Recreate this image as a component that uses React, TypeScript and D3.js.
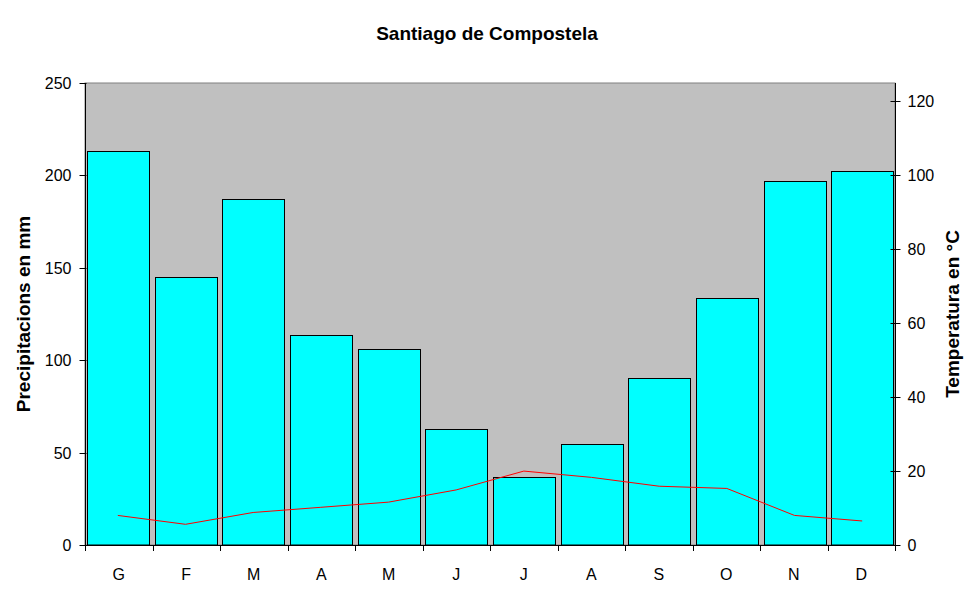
import { useEffect, useRef } from 'react';
import * as d3 from 'd3';

const months = ['G', 'F', 'M', 'A', 'M', 'J', 'J', 'A', 'S', 'O', 'N', 'D'];
const precipitation = [213, 145, 187.5, 113.5, 106, 62.8, 36.8, 54.6, 90.4, 133.6, 196.8, 202.6];
const temperature = [8.0, 5.6, 8.8, 10.2, 11.6, 14.9, 20.0, 18.3, 15.9, 15.3, 8.0, 6.5];
const precipTicks = [0, 50, 100, 150, 200, 250];
const tempTicks = [0, 20, 40, 60, 80, 100, 120];

const width = 974;
const height = 604;
const font = 'Arial, "Liberation Sans", sans-serif';

export default function App() {
  const svgRef = useRef<SVGSVGElement>(null);

  useEffect(() => {
    if (!svgRef.current) return;
    const svg = d3.select(svgRef.current);
    svg.selectAll('*').remove();

    const left = 85, right = 895, top = 83, bottom = 545;

    const x = d3.scaleBand<number>()
      .domain(d3.range(months.length))
      .range([left, right])
      .paddingInner(0.09)
      .paddingOuter(0.03);

    const yP = d3.scaleLinear().domain([0, 250]).range([bottom, top]);
    const yT = d3.scaleLinear().domain([0, 125]).range([bottom, top]);

    // plot background
    svg.append('rect')
      .attr('x', left).attr('y', top)
      .attr('width', right - left).attr('height', bottom - top)
      .attr('fill', '#c0c0c0')
      .attr('stroke', '#808080')
      .attr('stroke-width', 1);

    // bars
    svg.append('g')
      .selectAll('rect')
      .data(precipitation)
      .enter().append('rect')
      .attr('x', (d, i) => Math.round(x(i)!) + 0.5)
      .attr('y', d => Math.round(yP(d)) + 0.5)
      .attr('width', Math.round(x.bandwidth()))
      .attr('height', d => bottom - Math.round(yP(d)) - 0.5)
      .attr('fill', '#00ffff')
      .attr('stroke', '#000')
      .attr('stroke-width', 1);

    // temperature line
    const line = d3.line<number>()
      .x((d, i) => x(i)! + x.bandwidth() / 2)
      .y(d => yT(d));

    svg.append('path')
      .datum(temperature)
      .attr('d', line)
      .attr('fill', 'none')
      .attr('stroke', '#ff0000')
      .attr('stroke-width', 1);

    // left axis
    const gl = svg.append('g').attr('transform', `translate(${left + 0.5},0)`);
    gl.append('line').attr('y1', top).attr('y2', bottom).attr('stroke', '#000');
    precipTicks.forEach(t => {
      const y = Math.round(yP(t)) + 0.5;
      gl.append('line').attr('x1', -6).attr('x2', 1).attr('y1', y).attr('y2', y).attr('stroke', '#000');
      gl.append('text')
        .attr('x', -14).attr('y', y).attr('dy', '0.35em')
        .attr('text-anchor', 'end')
        .style('font-family', font).style('font-size', '16px')
        .text(t);
    });

    // right axis
    const gr = svg.append('g').attr('transform', `translate(${right + 0.5},0)`);
    gr.append('line').attr('y1', top).attr('y2', bottom).attr('stroke', '#000');
    tempTicks.forEach(t => {
      const y = Math.round(yT(t)) + 0.5;
      gr.append('line').attr('x1', -5).attr('x2', 5).attr('y1', y).attr('y2', y).attr('stroke', '#000');
      gr.append('text')
        .attr('x', 12).attr('y', y).attr('dy', '0.35em')
        .attr('text-anchor', 'start')
        .style('font-family', font).style('font-size', '16px')
        .text(t);
    });

    // bottom axis
    const gb = svg.append('g');
    gb.append('line')
      .attr('x1', left).attr('x2', right + 1)
      .attr('y1', bottom + 0.5).attr('y2', bottom + 0.5)
      .attr('stroke', '#000');
    d3.range(months.length + 1).forEach(i => {
      const xx = Math.round(left + i * (right - left) / months.length) + 0.5;
      gb.append('line')
        .attr('x1', xx).attr('x2', xx)
        .attr('y1', bottom).attr('y2', bottom + 6)
        .attr('stroke', '#000');
    });
    gb.selectAll('text.month')
      .data(months)
      .enter().append('text')
      .attr('class', 'month')
      .attr('x', (d, i) => left + (i + 0.5) * (right - left) / months.length)
      .attr('y', 580)
      .attr('text-anchor', 'middle')
      .style('font-family', font).style('font-size', '16px')
      .text(d => d);

    // title
    svg.append('text')
      .attr('x', 487).attr('y', 40)
      .attr('text-anchor', 'middle')
      .style('font-family', font).style('font-size', '19px').style('font-weight', 'bold')
      .text('Santiago de Compostela');

    // axis titles
    svg.append('text')
      .attr('transform', `translate(30,${(top + bottom) / 2}) rotate(-90)`)
      .attr('text-anchor', 'middle')
      .style('font-family', font).style('font-size', '19px').style('font-weight', 'bold')
      .text('Precipitacions en mm');

    svg.append('text')
      .attr('transform', `translate(959,${(top + bottom) / 2}) rotate(-90)`)
      .attr('text-anchor', 'middle')
      .style('font-family', font).style('font-size', '19px').style('font-weight', 'bold')
      .text('Temperatura en °C');
  }, []);

  return (
    <div style={{ position: 'absolute', left: 0, top: 0, background: '#fff' }}>
      <svg ref={svgRef} width={width} height={height} style={{ display: 'block' }} />
    </div>
  );
}
